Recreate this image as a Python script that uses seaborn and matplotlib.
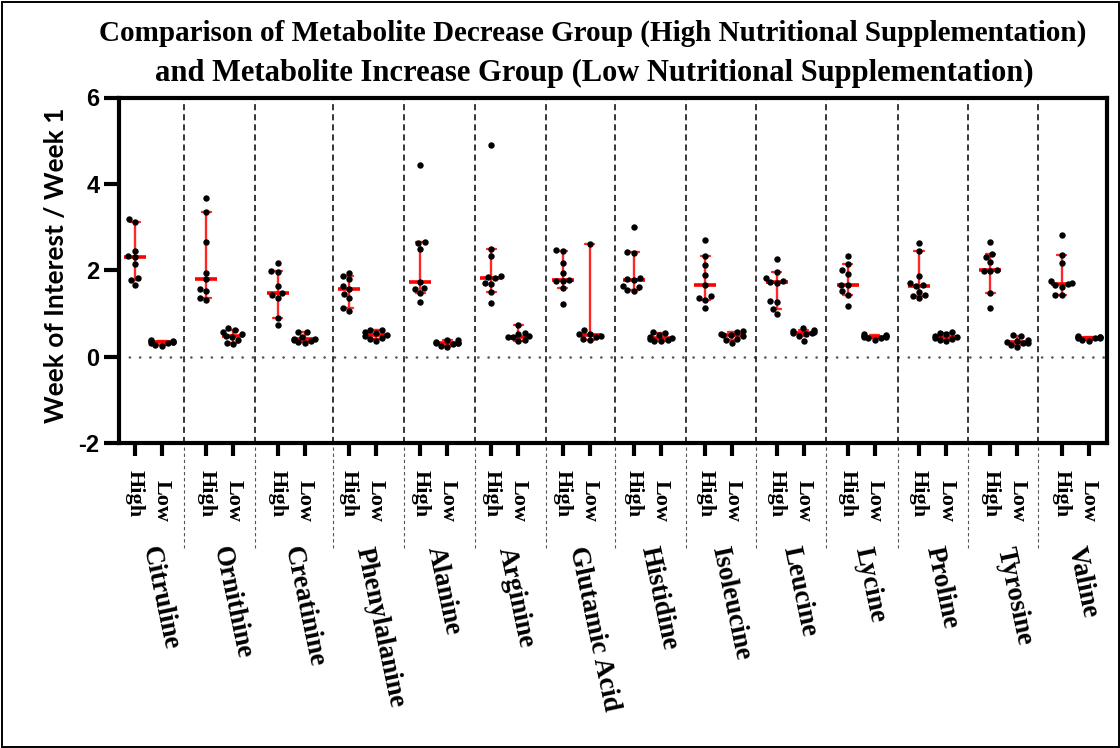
import math

import numpy as np
import pandas as pd
import matplotlib
matplotlib.use("Agg")
import matplotlib.pyplot as plt
import matplotlib.transforms as mtransforms
from matplotlib.patches import Rectangle
import seaborn as sns

# ---------------------------------------------------------------------------
# Data: ratio of metabolite level (week of interest / week 1) per subject
# ---------------------------------------------------------------------------
metabolites = ["Citruline", "Ornithine", "Creatinine", "Phenylalanine", "Alanine",
               "Arginine", "Glutamic Acid", "Histidine", "Isoleucine", "Leucine",
               "Lycine", "Proline", "Tyrosine", "Valine"]
groups = ["High", "Low"]

high_values = [
    [3.20, 3.12, 2.45, 2.33, 2.30, 2.14, 1.82, 1.78, 1.66],          # Citruline
    [3.68, 3.34, 2.65, 1.95, 1.80, 1.58, 1.52, 1.36, 1.32],          # Ornithine
    [2.18, 1.99, 1.96, 1.63, 1.47, 1.44, 1.36, 0.91, 0.74],          # Creatinine
    [1.95, 1.88, 1.80, 1.64, 1.57, 1.45, 1.35, 1.13, 1.05],          # Phenylalanine
    [4.43, 2.66, 2.63, 2.49, 1.74, 1.59, 1.57, 1.47, 1.28],          # Alanine
    [4.90, 2.49, 2.34, 1.88, 1.85, 1.82, 1.71, 1.69, 1.50, 1.24],    # Arginine
    [2.48, 2.44, 2.18, 1.94, 1.77, 1.76, 1.75, 1.59, 1.22],          # Glutamic Acid
    [3.00, 2.42, 2.40, 1.82, 1.79, 1.78, 1.64, 1.62, 1.54, 1.52],    # Histidine
    [2.71, 2.34, 2.13, 1.90, 1.66, 1.40, 1.36, 1.32, 1.12],          # Isoleucine
    [2.27, 1.97, 1.83, 1.76, 1.74, 1.72, 1.29, 1.28, 1.11, 0.98],    # Leucine
    [2.34, 2.14, 2.01, 1.92, 1.67, 1.66, 1.52, 1.43, 1.18],          # Lycine
    [2.63, 2.44, 1.88, 1.70, 1.66, 1.64, 1.51, 1.42, 1.41, 1.36],    # Proline
    [2.66, 2.38, 2.30, 2.19, 2.00, 1.99, 1.98, 1.47, 1.12],          # Tyrosine
    [2.83, 2.35, 2.17, 1.75, 1.70, 1.68, 1.66, 1.62, 1.43, 1.42],    # Valine
]

low_values = [
    [0.39, 0.37, 0.36, 0.35, 0.34, 0.33, 0.31, 0.28, 0.26],          # Citruline
    [0.66, 0.61, 0.58, 0.52, 0.49, 0.47, 0.40, 0.32, 0.30],          # Ornithine
    [0.58, 0.57, 0.47, 0.42, 0.41, 0.39, 0.37, 0.34, 0.33],          # Creatinine
    [0.63, 0.62, 0.57, 0.55, 0.50, 0.49, 0.43, 0.41, 0.36],          # Phenylalanine
    [0.40, 0.38, 0.35, 0.33, 0.32, 0.31, 0.30, 0.26, 0.23],          # Alanine
    [0.74, 0.55, 0.52, 0.48, 0.46, 0.45, 0.40, 0.37],                # Arginine
    [2.62, 0.62, 0.54, 0.52, 0.48, 0.45, 0.42, 0.38],                # Glutamic Acid
    [0.58, 0.56, 0.50, 0.47, 0.43, 0.42, 0.40, 0.37, 0.36],          # Histidine
    [0.60, 0.58, 0.53, 0.51, 0.50, 0.48, 0.42, 0.38, 0.31],          # Isoleucine
    [0.66, 0.62, 0.60, 0.58, 0.56, 0.55, 0.52, 0.48, 0.37],          # Leucine
    [0.52, 0.50, 0.49, 0.48, 0.46, 0.45, 0.44, 0.43, 0.39],          # Lycine
    [0.57, 0.56, 0.52, 0.48, 0.45, 0.44, 0.42, 0.38, 0.36],          # Proline
    [0.50, 0.48, 0.40, 0.37, 0.34, 0.33, 0.31, 0.27, 0.22],          # Tyrosine
    [0.48, 0.47, 0.46, 0.45, 0.44, 0.44, 0.43, 0.40, 0.36],          # Valine
]

y_ticks = [-2, 0, 2, 4, 6]
title_lines = [
    "Comparison of Metabolite Decrease Group (High Nutritional Supplementation)",
    "and Metabolite Increase Group (Low Nutritional Supplementation)",
]
y_label = "Week of Interest / Week 1"

# ---------------------------------------------------------------------------
# Layout constants
# ---------------------------------------------------------------------------
LOW_OFFSET = 0.38          # horizontal gap between the High and Low column of a pair
DIVIDERS = [0.69, 1.68, 2.78, 3.78, 4.77, 5.76, 6.74, 7.73, 8.71, 9.70,
            10.70, 11.68, 12.67]
W, H = 1120, 748

# Long-form table: one row per subject
rows = []
for i, name in enumerate(metabolites):
    for grp, vals, off in (("High", high_values[i], 0.0),
                           ("Low", low_values[i], LOW_OFFSET)):
        for v in vals:
            rows.append({"metabolite": name, "group": grp,
                         "pos": i + off, "ratio": v})
df = pd.DataFrame(rows)


def median_ci(values, level=0.95):
    """Distribution-free confidence interval of the median (order statistics)."""
    v = np.sort(np.asarray(values, dtype=float))
    n = len(v)
    k = 1
    while True:
        nxt = k + 1
        tail = sum(math.comb(n, j) for j in range(nxt)) / 2 ** n
        if nxt <= n // 2 and 1 - 2 * tail >= level:
            k = nxt
        else:
            break
    return v[k - 1], v[n - k]


# ---------------------------------------------------------------------------
# Figure
# ---------------------------------------------------------------------------
sns.set_style("white")
plt.rcParams["font.family"] = ["Liberation Serif", "DejaVu Serif"]
plt.rcParams["axes.unicode_minus"] = False
for key in ("text.color", "axes.labelcolor", "xtick.color", "ytick.color",
            "axes.edgecolor"):
    plt.rcParams[key] = "black"

fig = plt.figure(figsize=(W / 100, H / 100), dpi=100)
ax = fig.add_axes([118.7 / W, 1 - 443.3 / H, (1107 - 118.7) / W, (443.3 - 97.5) / H])

# individual subjects
sns.swarmplot(data=df, x="pos", y="ratio", native_scale=True, orient="x",
              color="black", size=4.6, linewidth=0, ax=ax, zorder=5)

# median with 95% CI of the median
sns.pointplot(data=df, x="pos", y="ratio", native_scale=True, orient="x",
              estimator="median", errorbar=median_ci, color="#ff0000",
              marker="_", markersize=16, markeredgewidth=2.6, linestyle="none",
              capsize=0.34, err_kws={"linewidth": 1.7, "alpha": 0.85},
              ax=ax, zorder=4)

# zero reference line
ax.axhline(0, color="#555555", lw=1.8, ls=(0, (0.1, 4.0)),
           dash_capstyle="round", zorder=1)

# dashed separators between metabolites
xaxis_tr = ax.get_xaxis_transform()
for xd in DIVIDERS:
    ax.axvline(xd, color="black", lw=1.1, ls=(0, (4.0, 2.6)), zorder=2)
    ax.plot([xd, xd], [-0.012, -0.302], transform=xaxis_tr, clip_on=False,
            color="#555555", lw=0.8, ls=(0, (3.0, 2.5)))

# axes
ax.set_xlim((118.7 - 135) / 71.28, (1107 - 135) / 71.28)
ax.set_ylim(-2, 6)
ax.set_yticks(y_ticks)
ax.set_yticklabels([str(t) for t in y_ticks])
positions = []
for i in range(len(metabolites)):
    positions += [i, i + LOW_OFFSET]
ax.set_xticks(positions)
ax.set_xticklabels([])
ax.set_xlabel("")
ax.set_ylabel("")

for side in ("left", "right", "top", "bottom"):
    ax.spines[side].set_visible(True)
    ax.spines[side].set_linewidth(3.0)
    ax.spines[side].set_color("black")

ax.tick_params(axis="y", direction="out", length=11, width=3, pad=3,
               labelsize=17, left=True, colors="black")
ax.tick_params(axis="x", direction="out", length=9.5, width=3, bottom=True,
               colors="black")
for lab in ax.get_yticklabels():
    lab.set_fontweight("bold")
    lab.set_family(["Liberation Sans", "DejaVu Sans"])

# High / Low labels under every column
lab_tr = mtransforms.blended_transform_factory(ax.transData, fig.transFigure)
for i in range(len(metabolites)):
    ax.text(i, 1 - 470 / H, groups[0], transform=lab_tr, rotation=-90,
            ha="center", va="top", fontsize=16, fontweight="bold")
    ax.text(i + LOW_OFFSET, 1 - 480 / H, groups[1], transform=lab_tr,
            rotation=-90, ha="center", va="top", fontsize=16, fontweight="bold")
    # metabolite name, slanted
    ax.text(i + LOW_OFFSET / 2, 1 - 547 / H, metabolites[i], transform=lab_tr,
            rotation=-78, rotation_mode="anchor", ha="left", va="center",
            fontsize=19.5, fontweight="bold")

# y-axis title
fig.text(56 / W, 1 - 265 / H, y_label, rotation=90, ha="center", va="center",
         fontsize=19, fontweight="bold", family=["Lato", "DejaVu Sans"])

# chart title
fig.text(593 / W, 1 - 41 / H, title_lines[0], ha="center", va="baseline",
         fontsize=21, fontweight="bold")
fig.text(594 / W, 1 - 81 / H, title_lines[1], ha="center", va="baseline",
         fontsize=22, fontweight="bold")

# frame around the whole figure
fig.patches.append(Rectangle((1.5 / W, 1.5 / H), 1 - 3 / W, 1 - 3 / H,
                             transform=fig.transFigure, fill=False,
                             lw=1.4, ec="black"))

fig.savefig("out.png", dpi=100)
